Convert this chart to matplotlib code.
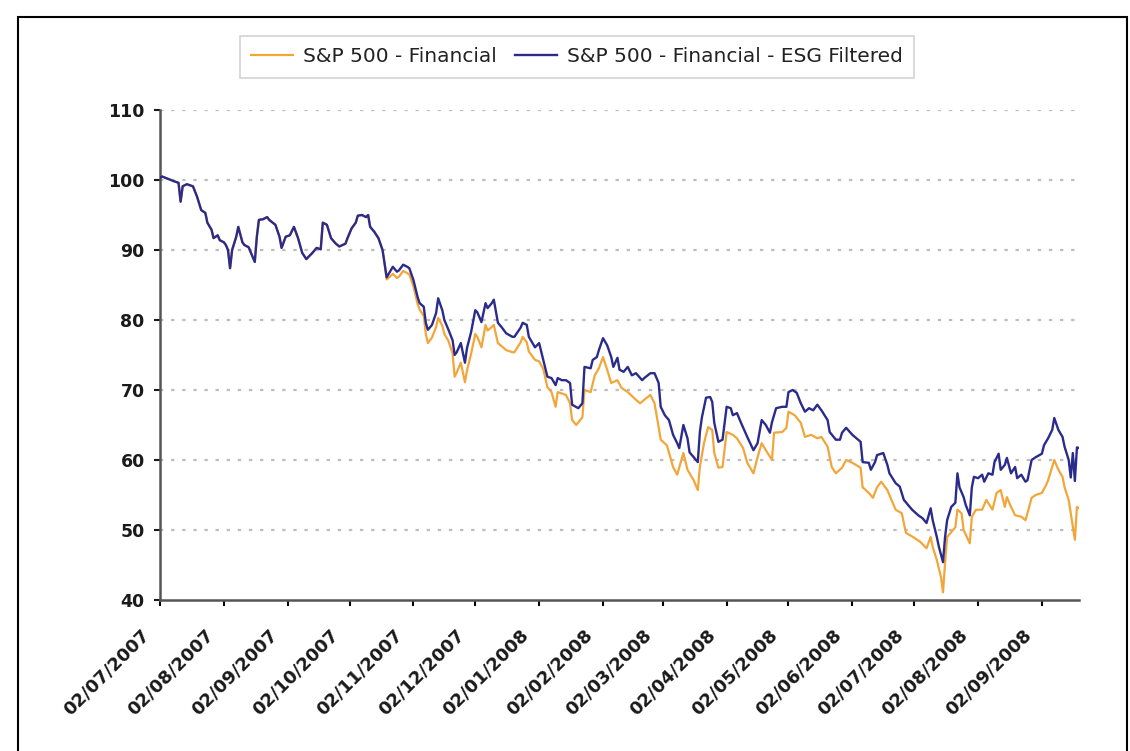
import numpy as np
import matplotlib
matplotlib.use("Agg")
import matplotlib.pyplot as plt
from matplotlib.patches import Rectangle
from matplotlib.transforms import ScaledTranslation

start = np.datetime64("2007-07-02")

# Both indices move together (indexed to 100) until early November 2007
shared_day = [0, 1, 7, 9, 10, 11, 13, 16, 18, 20, 22, 23, 25, 26, 28, 29, 31, 32, 33, 34,
              35, 37, 38, 40, 41, 43, 45, 46, 47, 48, 50, 52, 53, 56, 58, 59, 61, 63, 65, 67,
              69, 71, 74, 76, 78, 79, 81, 83, 85, 87, 90, 91, 93, 95, 96, 98, 100, 101, 102, 104,
              106, 108, 109]
shared_val = [100.3, 100.5, 99.8, 99.6, 96.9, 99.1, 99.4, 99.1, 97.6, 95.7, 95.3, 93.9, 92.9, 91.7, 92.1, 91.4, 91.1, 90.7, 90.0, 87.4,
              90.0, 91.9, 93.3, 91.1, 90.7, 90.4, 89.0, 88.3, 91.9, 94.3, 94.4, 94.7, 94.3, 93.6, 91.9, 90.3, 91.9, 92.1, 93.3, 91.7,
              89.6, 88.7, 89.6, 90.3, 90.1, 93.9, 93.6, 91.7, 91.0, 90.5, 90.9, 91.7, 93.1, 93.9, 94.9, 95.0, 94.7, 95.0, 93.3, 92.6,
              91.7, 90.0, 88.1]

# S&P 500 - Financial
fin_day = [110, 112, 113, 115, 116, 118, 120, 121, 123, 125, 126, 128, 129, 130, 132, 134, 135, 137, 138, 140,
           142, 143, 144, 146, 147, 148, 149, 151, 153, 154, 156, 158, 159, 161, 162, 164, 166, 168, 171, 172,
           175, 176, 178, 179, 182, 184, 186, 188, 190, 192, 193, 195, 197, 199, 200, 202, 205, 206, 209, 211,
           213, 215, 217, 219, 222, 224, 227, 231, 233, 235, 238, 240, 242, 243, 246, 249, 251, 254, 256, 259,
           261, 262, 264, 266, 268, 269, 271, 273, 275, 278, 280, 283, 285, 288, 290, 292, 294, 297, 298, 302,
           304, 305, 308, 311, 313, 316, 319, 321, 324, 326, 328, 331, 333, 336, 340, 341, 344, 346, 348, 350,
           353, 355, 357, 360, 362, 366, 369, 372, 374, 375, 377, 379, 380, 381, 382, 386, 387, 389, 390, 393,
           394, 396, 399, 401, 404, 406, 408, 410, 411, 413, 415, 418, 420, 421, 423, 425, 428, 430, 431, 434,
           436, 438, 439, 441, 442, 443, 444, 445, 446]
fin_val = [85.8, 86.3, 86.6, 86.0, 86.2, 87.0, 86.7, 86.5, 84.8, 82.3, 81.5, 80.6, 78.0, 76.7, 77.5, 79.0, 80.3, 79.2, 78.0, 77.0,
           75.2, 71.9, 72.5, 73.9, 72.5, 71.1, 72.8, 75.2, 78.0, 77.6, 76.1, 79.3, 78.5, 79.0, 79.3, 76.7, 76.2, 75.7, 75.4, 75.4,
           76.8, 77.6, 76.8, 75.5, 74.3, 74.1, 73.0, 70.4, 69.7, 67.6, 69.7, 69.5, 69.3, 68.1, 65.7, 65.0, 66.1, 70.0, 69.7, 72.1,
           73.1, 74.7, 72.9, 71.0, 71.4, 70.3, 69.7, 68.6, 68.1, 68.6, 69.3, 68.1, 64.7, 62.9, 62.1, 59.0, 57.9, 61.0, 58.6, 57.1,
           55.7, 59.0, 62.4, 64.7, 64.3, 61.0, 58.9, 59.0, 64.0, 63.6, 63.1, 61.7, 59.6, 58.1, 60.4, 62.4, 61.4, 60.0, 63.9, 64.0,
           64.6, 66.9, 66.4, 65.3, 63.3, 63.6, 63.1, 63.3, 61.9, 59.0, 58.1, 58.9, 60.0, 59.6, 58.9, 56.1, 55.3, 54.6, 56.1, 56.9,
           55.7, 54.3, 52.9, 52.4, 49.6, 48.9, 48.3, 47.4, 49.0, 47.6, 45.7, 43.3, 41.1, 45.3, 49.0, 50.4, 52.9, 52.4, 50.0, 48.1,
           51.9, 52.9, 52.9, 54.3, 52.9, 55.3, 55.7, 53.3, 54.7, 53.3, 52.1, 51.9, 51.4, 52.4, 54.6, 55.0, 55.3, 56.4, 57.1, 60.0,
           58.6, 57.6, 56.1, 54.3, 52.4, 50.4, 48.6, 53.3, 53.1]

# S&P 500 - Financial - ESG Filtered
esg_day = [110, 112, 113, 115, 116, 118, 120, 121, 123, 125, 126, 128, 129, 130, 132, 134, 135, 137, 138, 140,
           142, 143, 144, 146, 147, 148, 149, 151, 153, 154, 156, 158, 159, 161, 162, 164, 166, 168, 171, 172,
           175, 176, 178, 179, 182, 184, 186, 188, 190, 192, 193, 195, 197, 199, 200, 203, 205, 206, 209, 210,
           212, 213, 215, 217, 219, 220, 222, 223, 225, 227, 229, 231, 234, 235, 238, 240, 242, 243, 245, 247,
           249, 251, 252, 254, 256, 257, 259, 261, 262, 263, 265, 267, 268, 269, 271, 273, 275, 277, 278, 280,
           282, 285, 288, 290, 292, 294, 296, 297, 299, 302, 304, 305, 307, 309, 311, 313, 315, 317, 319, 321,
           324, 325, 328, 330, 331, 333, 336, 338, 340, 341, 344, 345, 347, 348, 351, 353, 354, 357, 359, 361,
           365, 368, 370, 372, 374, 375, 377, 378, 380, 381, 382, 384, 386, 387, 388, 390, 391, 393, 394, 395,
           397, 399, 400, 402, 404, 405, 407, 408, 410, 411, 413, 415, 416, 418, 420, 421, 423, 425, 428, 429,
           431, 433, 434, 436, 438, 439, 441, 442, 443, 444, 445, 446]
esg_val = [86.1, 87.1, 87.6, 86.9, 87.1, 87.9, 87.6, 87.4, 85.7, 83.3, 82.4, 81.9, 79.6, 78.6, 79.3, 81.0, 83.1, 81.4, 80.0, 78.6,
           77.1, 75.0, 75.4, 76.7, 75.3, 73.9, 76.0, 78.3, 81.4, 81.1, 79.7, 82.4, 81.7, 82.4, 82.9, 79.6, 78.9, 78.1, 77.6, 77.6,
           78.9, 79.6, 79.3, 77.6, 76.1, 76.7, 74.3, 71.9, 71.7, 70.7, 71.7, 71.4, 71.4, 71.0, 67.9, 67.4, 68.1, 73.3, 73.1, 74.3,
           74.7, 75.7, 77.4, 76.4, 74.7, 73.3, 74.6, 72.9, 72.6, 73.3, 72.1, 72.4, 71.4, 71.7, 72.4, 72.4, 71.0, 67.6, 66.4, 65.7,
           63.6, 62.4, 61.7, 65.0, 63.1, 61.1, 60.4, 59.7, 64.0, 66.1, 68.9, 69.0, 68.3, 65.3, 62.6, 62.9, 67.6, 67.4, 66.4, 66.7,
           65.3, 63.3, 61.4, 62.4, 65.7, 65.0, 63.9, 65.4, 67.4, 67.6, 67.6, 69.7, 70.0, 69.6, 68.1, 66.9, 67.4, 67.1, 67.9, 67.1,
           65.7, 64.0, 62.9, 62.9, 63.9, 64.6, 63.6, 63.1, 62.6, 59.7, 59.6, 58.6, 59.7, 60.7, 61.0, 59.3, 58.1, 56.7, 56.2, 54.3,
           52.9, 52.1, 51.7, 51.0, 53.1, 51.4, 49.0, 47.6, 45.4, 49.0, 51.4, 53.3, 53.9, 58.1, 56.1, 54.7, 53.6, 52.1, 56.1, 57.6,
           57.4, 57.9, 56.9, 58.1, 57.9, 59.7, 60.9, 58.6, 59.3, 60.3, 58.1, 59.0, 57.4, 57.9, 56.9, 57.1, 60.0, 60.4, 60.9, 62.1,
           63.1, 64.3, 66.0, 64.3, 63.3, 61.9, 60.0, 57.5, 61.0, 57.0, 61.8, 61.7]

tick_dates = ["2007-07-02", "2007-08-02", "2007-09-02", "2007-10-02", "2007-11-02", "2007-12-02",
              "2008-01-02", "2008-02-02", "2008-03-02", "2008-04-02", "2008-05-02", "2008-06-02",
              "2008-07-02", "2008-08-02", "2008-09-02"]
tick_labels = ["02/07/2007", "02/08/2007", "02/09/2007", "02/10/2007", "02/11/2007", "02/12/2007",
               "02/01/2008", "02/02/2008", "02/03/2008", "02/04/2008", "02/05/2008", "02/06/2008",
               "02/07/2008", "02/08/2008", "02/09/2008"]
y_ticks = [40, 50, 60, 70, 80, 90, 100, 110]

ORANGE = "#F2A63A"
NAVY = "#2B2B8C"

fin_x = start + np.array(shared_day + fin_day, dtype="timedelta64[D]")
fin_y = np.array(shared_val + fin_val)
esg_x = start + np.array(shared_day + esg_day, dtype="timedelta64[D]")
esg_y = np.array(shared_val + esg_val)

fig = plt.figure(figsize=(11.30, 7.51), dpi=100)
ax = fig.add_axes([160 / 1130, 1 - 600 / 751, (1079 - 160) / 1130, 490 / 751])

for y in y_ticks[1:]:
    ax.axhline(y, color="#bdbdbd", lw=1.6, ls=(0, (1.5, 3.5)), zorder=0)

l1, = ax.plot(fin_x, fin_y, color=ORANGE, lw=1.6, label="S&P 500 - Financial", zorder=2)
l2, = ax.plot(esg_x, esg_y, color=NAVY, lw=1.7, label="S&P 500 - Financial - ESG Filtered", zorder=3)

ax.set_ylim(40, 110)
ax.set_xlim(start, start + np.timedelta64(446, "D"))
ax.set_yticks(y_ticks)
ax.set_xticks(np.array(tick_dates, dtype="datetime64[D]"))
ax.set_xticklabels(tick_labels, rotation=45, ha="right", va="top",
                   rotation_mode="anchor", fontsize=13, fontweight="bold", color="#1a1a1a")
ax.tick_params(axis="y", labelsize=12.5, colors="#1a1a1a", length=4, width=1.5, pad=7,
               direction="out")
ax.tick_params(axis="x", length=4, width=1.5, direction="out", pad=9)
for lab in ax.get_yticklabels():
    lab.set_fontweight("bold")

shift = ScaledTranslation(-20 / 100, -8 / 100, fig.dpi_scale_trans)
for lab in ax.get_xticklabels():
    lab.set_transform(lab.get_transform() + shift)

for side in ("top", "right"):
    ax.spines[side].set_visible(False)
for side in ("left", "bottom"):
    ax.spines[side].set_color("#555555")
    ax.spines[side].set_linewidth(1.8)

leg = fig.legend(handles=[l1, l2], loc="center", bbox_to_anchor=(577 / 1130, 1 - 57 / 751),
                 ncol=2, frameon=True, fancybox=False, fontsize=14.5, handlelength=2.1,
                 handletextpad=0.5, columnspacing=0.9, borderpad=0.55)
leg.get_frame().set_edgecolor("#c8c8c8")
leg.get_frame().set_linewidth(1.2)
for t in leg.get_texts():
    t.set_color("#222222")

fig.add_artist(Rectangle((18 / 1130, -0.05), (1127 - 18) / 1130, 1.05 - 17 / 751,
                         transform=fig.transFigure, fill=False, edgecolor="black", lw=1.5))

fig.savefig("out.png", dpi=100, facecolor="white")
